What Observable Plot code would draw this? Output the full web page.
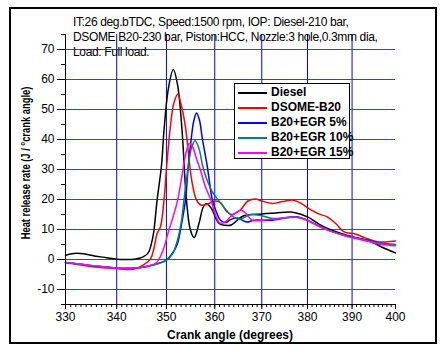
<!DOCTYPE html>
<html><head><meta charset="utf-8">
<script src="https://cdn.jsdelivr.net/npm/d3@7"></script>
<script src="https://cdn.jsdelivr.net/npm/@observablehq/plot@0.6"></script>
<style>
body{margin:0;background:#fff;}
#wrap{position:relative;width:448px;height:356px;overflow:hidden;font-family:"Liberation Sans",Arial,sans-serif;color:#000;}
#frame{position:absolute;left:9px;top:7px;width:428px;height:337px;border:2px solid #000;box-sizing:border-box;}
#chart{position:absolute;left:0;top:0;}
#title{position:absolute;left:73px;top:14px;font-size:13px;line-height:15px;letter-spacing:-0.4px;white-space:nowrap;transform:scaleX(0.925);transform-origin:0 0;}
#ylab{position:absolute;left:25px;top:163px;transform:translate(-50%,-50%) rotate(-90deg) scaleX(0.78);font-size:12px;font-weight:bold;white-space:nowrap;}
#xlab{position:absolute;left:230px;top:328px;transform:translateX(-50%);font-size:12px;font-weight:bold;white-space:nowrap;}
#legend{position:absolute;left:234px;top:83px;width:116px;height:76px;border:1px solid #000;background:#fff;box-sizing:border-box;}
.row{position:absolute;left:0;height:15px;font-size:12px;font-weight:bold;white-space:nowrap;}
.sw{position:absolute;left:3px;top:7px;width:29px;height:0;border-top:2.5px solid;}
.lt{position:absolute;left:36px;top:0;line-height:15px;}
</style></head>
<body>
<div id="wrap">
  <div id="chart"></div>
  <div id="frame"></div>
  <div id="title"></div>
  <div id="ylab">Heat release rate (J / <sup style="font-size:8px">o</sup>crank angle)</div>
  <div id="xlab">Crank angle (degrees)</div>
  <div id="legend"></div>
</div>
<script>
// ---- data ----
const seriesNames = ["Diesel", "DSOME-B20", "B20+EGR 5%", "B20+EGR 10%", "B20+EGR 15%"];
const seriesColors = ["#000000", "#ff0000", "#0000ff", "#008080", "#ff00ff"];
const titleLines = [
  "IT:26 deg.bTDC, Speed:1500 rpm, IOP: Diesel-210 bar,",
  "DSOME B20-230 bar, Piston:HCC, Nozzle:3 hole,0.3mm dia,",
  "Load: Full load."
];
const xTicks = [330, 340, 350, 360, 370, 380, 390, 400];
const yTicks = [-10, 0, 10, 20, 30, 40, 50, 60, 70];
const yMinor = [-15, -5, 5, 15, 25, 35, 45, 55, 65, 75];
const xMinor = d3.range(330, 401);

const angleDiesel = [330,331.6,333.5,335.6,338,340,342,343.8,345.3,346.3,346.9,347.4,348.1,349,349.5,350.4,351.4,352.3,353.2,354.1,354.9,355.7,356.7,357.6,358.3,359.3,360.9,362.2,363.5,366,370,373,376.3,378.5,380,383.8,389,394.3,397,400];
const hrrDiesel   = [1.4,2.0,1.9,1.2,0.6,0.1,0.0,0.2,0.9,2.2,5,9,19.8,31.4,43,57,63.3,58,43,20,10,7.3,12,17.5,18.7,17,12,11.4,11.5,14.5,15.2,15.5,15.8,15.1,14.2,10.8,8,6,4,2.2];

const angleB20 = [330,333,335.6,338,340,342,343.5,345.3,346.8,347.5,348.1,348.8,349.5,350.1,350.8,351.5,352.3,353.1,353.9,355.2,356.2,357.2,358.5,360,361.2,362.5,363.5,365.4,367,368.6,370,372.3,374.5,376.7,378.5,380.6,382.5,384.4,386.3,388.2,390.7,393,395.7,398,400];
const hrrB20   = [-1.0,-1.8,-2.5,-2.8,-3.0,-3.3,-3.2,-1.9,0.3,4,8.7,11,19.8,32,44.2,52,55.1,51,44.2,26.4,19.8,18.1,18.5,19.5,19,16,15.0,16.5,19.5,20.2,19.5,18.7,19.3,19.8,18.8,16.7,15.2,14.2,12,9.2,8.5,7.2,5.9,5.9,6.2];

const angleEgr5 = [330,333,336,340,343,346,348,350,351.2,352.2,353,353.9,354.5,355.1,355.6,356.2,356.8,357.4,358.4,359.5,360.2,361.2,362.3,363.3,364.8,366.8,368.3,372.4,376.3,378,380,383.8,388.2,390,394.3,397,400];
const hrrEgr5   = [-1.0,-1.6,-2.2,-2.8,-2.9,-2.3,-1.5,-0.2,2,5,11,19.8,31.4,40.3,46,48.8,46.5,40.3,31.4,19.8,16.4,13.1,12.3,13.3,13.8,12.5,13.1,13.1,14.2,14.2,13.1,10.3,8.1,7.4,6.2,5.3,5.0];

const angleEgr10 = [330,333,336,340,343,346,348,350,351.2,352,353,353.6,354.4,355.2,355.9,356.7,357.5,358.4,359.5,360.5,361.9,363.9,365.4,367.6,370,372.4,376,378,380,383.8,388.2,390,394.3,397,400];
const hrrEgr10   = [-1.0,-1.6,-2.2,-2.8,-2.9,-2.3,-1.5,-0.3,1.8,5,12,20,30,37.5,39.6,37,31,26.4,22.5,20.3,17.5,14.2,13.5,15.0,14.6,13.7,14.0,14.0,13.0,10.3,8.0,7.4,6.0,5.2,4.9];

const angleEgr15 = [330,333,336,340,343,346,348,349.3,350.5,351.5,352.3,353.2,354,354.7,355.4,356.2,357,358.1,359.2,360,361,362,363.5,365.5,366.5,368,372,376.7,378.5,380,383.8,388.2,390,394.3,397,400];
const hrrEgr15   = [-1.0,-1.6,-2.2,-2.9,-3.0,-2.3,-1.0,3.1,9.8,15,19.8,28,35.5,38.7,37.5,33.5,29.8,24,19.8,15.5,12.2,12.3,14.5,16.4,15.5,13.1,13.4,14.2,13.8,13.0,10.2,8.0,7.3,5.8,5.0,4.6];

const angles = [angleDiesel, angleB20, angleEgr5, angleEgr10, angleEgr15];
const hrrs = [hrrDiesel, hrrB20, hrrEgr5, hrrEgr10, hrrEgr15];

// ---- chart ----
const lineMarks = angles.map((xs, i) =>
  Plot.line(xs.map((x, j) => ({x, y: hrrs[i][j]})), {x: "x", y: "y", stroke: seriesColors[i], strokeWidth: 1.5, curve: "catmull-rom"})
);

const chart = Plot.plot({
  width: 448, height: 356,
  marginLeft: 65, marginRight: 53, marginTop: 34, marginBottom: 52,
  x: {type: "log", domain: [330, 400]},
  y: {domain: [-15, 75]},
  style: {fontFamily: '"Liberation Sans", Arial, sans-serif', fontSize: "12px", color: "#000", background: "transparent", overflow: "visible"},
  marks: [
    Plot.ruleY(yTicks, {stroke: "#ff0000", strokeWidth: 1}),
    Plot.ruleX(xTicks.slice(1, -1), {stroke: "#0000ff", strokeWidth: 1}),
    ...lineMarks,
    Plot.ruleX([330], {stroke: "#000", strokeWidth: 1}),
    Plot.ruleY([-15], {stroke: "#000", strokeWidth: 1}),
    Plot.axisY({ticks: yTicks, tickSize: 8, tickPadding: 3, tickFormat: d => String(d), label: null, stroke: "#000"}),
    Plot.axisY({ticks: yMinor, tickSize: 4, tickFormat: () => "", label: null}),
    Plot.axisX({ticks: xTicks, tickSize: 5, tickPadding: 3, tickFormat: d => String(d), label: null}),
    Plot.axisX({ticks: xMinor, tickSize: 3, tickFormat: () => "", label: null})
  ]
});
document.getElementById("chart").appendChild(chart);

// ---- title ----
document.getElementById("title").innerHTML = titleLines.map(t => `<div>${t}</div>`).join("");

// ---- legend ----
const leg = document.getElementById("legend");
seriesNames.forEach((n, i) => {
  const r = document.createElement("div");
  r.className = "row";
  r.style.top = (0.5 + i * 15.2) + "px";
  r.innerHTML = `<div class="sw" style="border-color:${seriesColors[i]}"></div><div class="lt">${n}</div>`;
  leg.appendChild(r);
});
</script>
</body></html>
